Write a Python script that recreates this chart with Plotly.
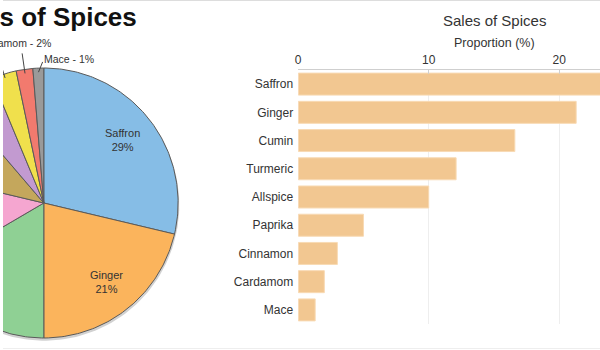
import numpy as np
import plotly.graph_objects as go

# ---- data ----
spices = ["Saffron", "Ginger", "Cumin", "Turmeric", "Allspice",
          "Paprika", "Cinnamon", "Cardamom", "Mace"]
proportion = [28.7, 21.3, 16.6, 12.1, 10.0, 5.0, 3.0, 2.0, 1.3]
pie_colors = ["#86bde6", "#fbb45c", "#8fd094", "#f5a6d0", "#c4a75c",
              "#c29ad0", "#f0e04c", "#f27a6e", "#9a9a9a"]
bar_ticks = [0, 10, 20]
title_text = "Sales of Spices"
axis_title = "Proportion (%)"

W, H = 600, 350
R_PX = 135.0
CX_PX, CY_PX = 41.0, 203.0
PIE_W = 180.0

fig = go.Figure()

# ---- pie drawn as wedges on a cartesian subplot (cropped on the left) ----
vals = np.array(proportion, dtype=float)
frac = vals / vals.sum()
ends = np.cumsum(frac) * 2 * np.pi
starts = ends - frac * 2 * np.pi
mids = (starts + ends) / 2

# soft shadow
t = np.linspace(0, 2 * np.pi, 200)
fig.add_trace(go.Scatter(x=np.sin(t) * 1.005 + 0.5 / R_PX,
                         y=np.cos(t) * 1.005 - 2.0 / R_PX,
                         mode="lines", fill="toself",
                         fillcolor="rgba(0,0,0,0.18)", line=dict(width=0),
                         hoverinfo="skip", showlegend=False,
                         xaxis="x", yaxis="y"))

for name, s, e, c, v in zip(spices, starts, ends, pie_colors, vals):
    th = np.linspace(s, e, max(4, int((e - s) * 60)))
    xs = np.concatenate([[0], np.sin(th), [0]])
    ys = np.concatenate([[0], np.cos(th), [0]])
    fig.add_trace(go.Scatter(x=xs, y=ys, mode="lines", fill="toself",
                             fillcolor=c, line=dict(color="#5a5a5a", width=1),
                             name=name, showlegend=False,
                             hoverinfo="text", text=f"{name}: {v:.1f}%",
                             xaxis="x", yaxis="y"))

# inside labels for big slices, outside labels with leaders for small ones
label_font = dict(size=11, color="#333", family="Liberation Sans, Arial")
out_font = dict(size=10.5, color="#333", family="Liberation Sans, Arial")
pct_text = [f"{round(p)}%" for p in frac * 100]
for name, m, p, pt in zip(spices, mids, frac * 100, pct_text):
    if p >= 8:
        r = 0.75
        fig.add_annotation(x=r * np.sin(m), y=r * np.cos(m), xref="x", yref="y",
                           text=f"{name}<br>{pt}", showarrow=False,
                           font=label_font, align="center")
    else:
        x0, y0 = 0.97 * np.sin(m), 0.97 * np.cos(m)
        x1, y1 = 1.12 * np.sin(m), 1.12 * np.cos(m)
        right_side = (name == "Mace")
        if right_side:
            x1 += 5 / R_PX
            y1 -= 10 / R_PX
        fig.add_trace(go.Scatter(x=[x0, x1], y=[y0, y1], mode="lines",
                                 line=dict(color="#444", width=1),
                                 hoverinfo="skip", showlegend=False,
                                 xaxis="x", yaxis="y"))
        if right_side:
            fig.add_annotation(x=x1, y=y1, xref="x", yref="y",
                               text=f"{name} - {pt}", showarrow=False,
                               xanchor="left", yanchor="middle",
                               xshift=-1, yshift=3, font=out_font)
        else:
            fig.add_annotation(x=x1, y=y1, xref="x", yref="y",
                               text=f"{name} - {pt}", showarrow=False,
                               xanchor="right", yanchor="bottom",
                               xshift=31, yshift=2, font=out_font)

# ---- bar chart ----
fig.add_trace(go.Bar(x=proportion, y=spices, orientation="h",
                     marker=dict(color="#f2c791",
                                 line=dict(color="#f8dab4", width=1)),
                     showlegend=False, xaxis="x2", yaxis="y2",
                     hovertemplate="%{y}: %{x}%<extra></extra>"))

px_per_unit = (559.0 - 296.7) / 20.0
x2_left = 296.7
fig.update_layout(
    width=W, height=H,
    margin=dict(l=0, r=0, t=0, b=0),
    paper_bgcolor="white", plot_bgcolor="white",
    font=dict(family="Liberation Sans, Arial", color="#333"),
    bargap=0.22,
    xaxis=dict(domain=[0, PIE_W / W], visible=False, fixedrange=True,
               range=[-CX_PX / R_PX, (PIE_W - CX_PX) / R_PX]),
    yaxis=dict(domain=[0, 1], visible=False, fixedrange=True,
               range=[-(H - CY_PX) / R_PX, CY_PX / R_PX]),
    xaxis2=dict(domain=[x2_left / W, 1], anchor="y2", side="top",
                range=[0, (W - x2_left) / px_per_unit],
                tickvals=bar_ticks, showgrid=True, gridcolor="#eeeeee",
                showline=True, linecolor="#cfcfcf", linewidth=1,
                ticks="inside", ticklen=4, tickcolor="#cfcfcf",
                tickfont=dict(size=12, color="#333"), zeroline=False),
    yaxis2=dict(domain=[(H - 324) / H, (H - 70) / H], anchor="x2",
                autorange="reversed", showgrid=False, showline=False,
                ticks="", tickfont=dict(size=12, color="#333"),
                ticklabelstandoff=4),
)

# titles
fig.add_annotation(x=137 / W, y=1 - 17 / H, xref="paper", yref="paper",
                   text=title_text, showarrow=False, xanchor="right",
                   yanchor="middle",
                   font=dict(size=26, color="#111", weight="bold",
                             family="Liberation Sans, Arial"))
fig.add_annotation(x=494 / W, y=1 - 20 / H, xref="paper", yref="paper",
                   text=title_text, showarrow=False, xanchor="center",
                   yanchor="middle", font=dict(size=15, color="#333"))
fig.add_annotation(x=494 / W, y=1 - 43 / H, xref="paper", yref="paper",
                   text=axis_title, showarrow=False, xanchor="center",
                   yanchor="middle", font=dict(size=12.5, color="#333"))

# thin frame lines at top and bottom
fig.add_shape(type="line", xref="paper", yref="paper", x0=0, x1=1,
              y0=1 - 0.5 / H, y1=1 - 0.5 / H, line=dict(color="#dddddd", width=1))
fig.add_shape(type="line", xref="paper", yref="paper", x0=0, x1=1,
              y0=1.5 / H, y1=1.5 / H, line=dict(color="#eeeeee", width=1))

fig.write_html("out.html")
